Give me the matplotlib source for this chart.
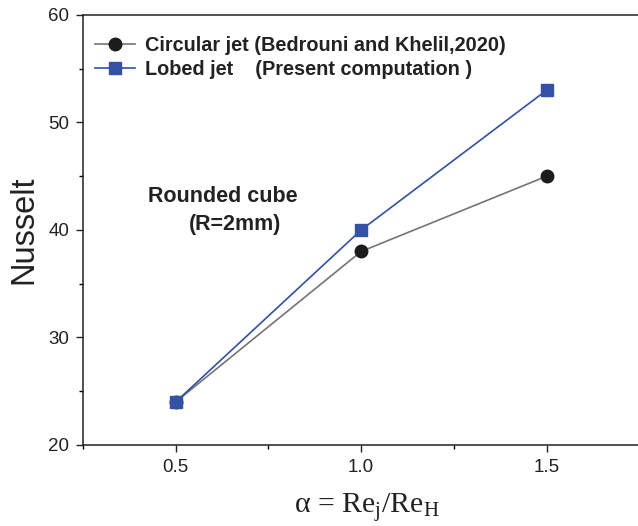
import numpy as np
import matplotlib.pyplot as plt
from matplotlib.ticker import MultipleLocator

# data
alpha = [0.5, 1.0, 1.5]
nu_circular = [24, 38, 45]
nu_lobed = [24, 40, 53]

plt.rcParams['font.family'] = ['Liberation Sans', 'DejaVu Sans']
plt.rcParams['mathtext.fontset'] = 'custom'
plt.rcParams['mathtext.rm'] = 'Liberation Serif'
plt.rcParams['mathtext.it'] = 'Liberation Serif:italic'

fig = plt.figure(figsize=(6.38, 5.26), dpi=100)
ax = fig.add_axes([0.130, 0.154, 0.872, 0.8175])

ax.plot(alpha, nu_circular, '-o', color='#747474', lw=1.2,
        mfc='#1c1c1c', mec='#1c1c1c', ms=9,
        label='Circular jet (Bedrouni and Khelil,2020)')
ax.plot(alpha, nu_lobed, '-s', color='#3150a5', lw=1.2,
        mfc='#3551a3', mec='#3551a3', ms=8.3,
        label='Lobed jet    (Present computation )')

ax.set_xlim(0.25, 1.75)
ax.set_ylim(20, 60)
ax.xaxis.set_major_locator(MultipleLocator(0.5))
ax.xaxis.set_minor_locator(MultipleLocator(0.25))
ax.yaxis.set_major_locator(MultipleLocator(10))
ax.yaxis.set_minor_locator(MultipleLocator(5))
ax.tick_params(which='major', direction='out', length=5, width=1,
               labelsize=13.5, colors='#222222', pad=5)
ax.tick_params(which='minor', direction='out', length=3, width=1)

for s in ['left', 'bottom', 'top']:
    ax.spines[s].set_linewidth(1.1)
    ax.spines[s].set_color('#222222')
ax.spines['right'].set_visible(False)

ax.set_ylabel('Nusselt', fontsize=23.5, color='#222222', labelpad=6)
fig.text(367 / 638, 1 - 513 / 526, 'α = Re$_{\\mathrm{j}}$/Re$_{\\mathrm{H}}$',
         fontsize=21.5, family='Liberation Serif', color='#222222',
         ha='center', va='baseline')

leg = ax.legend(loc='upper left', bbox_to_anchor=(0.0, 0.979), frameon=False,
                prop={'weight': 'bold', 'size': 14.3}, handlelength=2.0,
                handletextpad=0.5, labelspacing=0.27, borderaxespad=0.2)
for t in leg.get_texts():
    t.set_color('#222222')

ax.text(0.117, 0.579, 'Rounded cube', transform=ax.transAxes, va='center',
        fontsize=15.5, fontweight='bold', color='#222222')
ax.text(0.191, 0.512, '(R=2mm)', transform=ax.transAxes, va='center',
        fontsize=15.5, fontweight='bold', color='#222222')

fig.savefig('out.png', dpi=100)
